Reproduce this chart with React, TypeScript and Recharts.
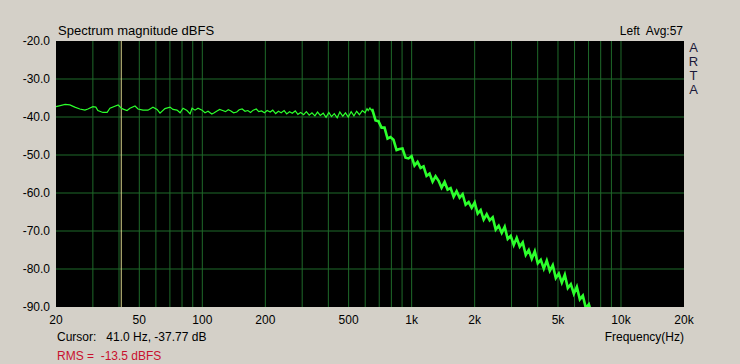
import { CartesianGrid, Line, LineChart, ReferenceLine, XAxis, YAxis } from "recharts";

// low end, one reading per visible wiggle (Hz / dBFS)
const lowFreqs = [20, 22.1, 23.3, 24.6, 26, 27.5, 28.4, 30, 31, 31.7, 33.5, 35.1, 36.2, 39.6, 40.4, 41.3, 43.7, 45.1, 47.7, 49.3, 52.1, 55, 58.1, 60.8, 62.8, 66.3, 70.1, 72.4, 75.7, 78.3, 80.9, 84.5, 87.4, 89.3, 92.3, 95.4, 99.7, 103, 106.5, 111];
const lowLevels = [-37.3, -36.7, -36.8, -37.4, -37.9, -38.2, -37.9, -37.3, -37.4, -38.3, -38.8, -38.8, -37.7, -36.8, -37.3, -37.8, -38.3, -37.7, -37.1, -37.9, -38.2, -38.2, -37.4, -38.0, -39.0, -37.8, -37.4, -38.0, -38.2, -38.9, -37.7, -38.3, -39.2, -37.7, -38.2, -37.7, -38.2, -38.9, -38.5, -39.2];

// flat part up to the peak, noise gets denser
const midFreqs = [114, 117.5, 121, 125, 129, 133, 137, 141, 146, 150, 155, 160, 165, 170, 175, 181, 186, 192, 198, 204, 211, 217, 224, 231, 238, 246, 253, 261, 269, 278, 286, 295, 305, 314, 324, 334, 345, 355, 366, 378, 390, 402, 414, 427, 441, 454, 469, 483, 498, 514, 530, 546, 563, 581, 599, 612, 620, 632, 640];
const midLevels = [-38.9, -38.4, -38.0, -38.3, -38.6, -38.1, -38.4, -38.9, -38.7, -38.1, -37.9, -38.5, -38.3, -38.8, -38.2, -37.9, -38.6, -38.4, -38.9, -38.3, -38.7, -38.2, -39.1, -38.5, -38.9, -38.3, -39.2, -38.6, -39.0, -38.4, -39.3, -38.8, -39.4, -38.6, -39.5, -38.9, -39.7, -38.7, -39.6, -39.0, -40.1, -38.8, -39.9, -39.1, -40.2, -38.7, -39.8, -38.9, -40.0, -38.6, -39.7, -38.5, -39.4, -38.3, -38.9, -37.8, -38.3, -37.6, -38.2];

// roll-off, noisy band
const rollFreqs = [650, 672, 694, 718, 742, 767, 792, 819, 847, 875, 904, 935, 966, 999, 1032, 1067, 1103, 1140, 1178, 1218, 1259, 1301, 1345, 1390, 1437, 1485, 1535, 1587, 1640, 1695, 1752, 1811, 1872, 1935, 2000, 2067, 2137, 2208, 2283, 2359, 2439, 2521, 2605, 2693, 2783, 2877, 2974, 3074, 3177, 3284, 3394, 3508, 3626, 3748, 3874, 4004, 4139, 4278, 4421, 4570, 4723, 4882, 5046, 5216, 5391, 5572, 5760, 5953, 6153, 6360, 6574, 6795, 7023, 7259];
const rollLevels = [-38.2, -40.9, -41.1, -42.8, -42.8, -45.7, -45.3, -46.0, -48.7, -48.4, -48.3, -50.7, -50.9, -50.3, -52.8, -51.8, -53.4, -53.0, -55.5, -54.9, -57.0, -55.6, -56.8, -58.6, -57.1, -59.1, -58.7, -61.0, -59.5, -61.2, -60.3, -63.1, -62.4, -63.9, -62.5, -65.4, -64.5, -67.0, -65.6, -67.2, -66.4, -69.6, -68.6, -70.5, -68.9, -72.1, -71.3, -73.7, -71.8, -74.1, -73.0, -76.3, -75.0, -77.3, -75.3, -78.5, -77.6, -79.9, -77.8, -80.5, -79.0, -82.4, -81.2, -83.6, -81.5, -85.0, -84.0, -86.5, -84.7, -88.0, -87.0, -90.3, -89.3, -92.0];

const freqTicks = [20, 50, 100, 200, 500, 1000, 2000, 5000, 10000, 20000];
const gridFreqs = [30, 40, 50, 60, 70, 80, 90, 100, 200, 300, 400, 500, 600, 700, 800, 900, 1000, 2000, 3000, 4000, 5000, 6000, 7000, 8000, 9000, 10000];
const levelTicks = [-90, -80, -70, -60, -50, -40, -30, -20];
const gridLevels = [-80, -70, -60, -50, -40, -30];
const cursorFreq = 41;

const flatData = [...lowFreqs.map((f, i) => ({ f, db: lowLevels[i] })), ...midFreqs.map((f, i) => ({ f, db: midLevels[i] }))];
const rollData = [{ f: 640, db: -38.2 }, ...rollFreqs.map((f, i) => ({ f, db: rollLevels[i] }))];

const font = "'Liberation Sans', Arial, sans-serif";
const gridColor = "#1f6a2a";
const trace = "#2cff2c";

const fmtFreq = (v: number) => (v >= 1000 ? `${v / 1000}k` : `${v}`);

function Txt({ x, y, children, right, color, size }: { x: number; y: number; children: React.ReactNode; right?: boolean; color?: string; size?: number }) {
  return (
    <div
      style={{
        position: "absolute",
        top: y - 8,
        lineHeight: "16px",
        fontSize: size ?? 12,
        whiteSpace: "pre",
        color: color ?? "#000",
        ...(right ? { right: 740 - x } : { left: x }),
      }}
    >
      {children}
    </div>
  );
}

export default function App() {
  return (
    <div style={{ position: "fixed", left: 0, top: 0, width: 740, height: 364, background: "#d4d0c8", fontFamily: font }}>
      <LineChart width={740} height={364} margin={{ top: 41, right: 56, bottom: 27, left: 6 }}>
        <CartesianGrid fill="#000" fillOpacity={1} horizontal={false} vertical={false} />
        <XAxis
          dataKey="f"
          type="number"
          scale="log"
          domain={[20, 20000]}
          ticks={freqTicks}
          tickFormatter={fmtFreq}
          axisLine={false}
          tickLine={false}
          tickSize={0}
          tickMargin={8}
          height={30}
          tick={{ fill: "#000", fontSize: 12, fontFamily: font }}
          allowDataOverflow
        />
        <YAxis
          type="number"
          domain={[-90, -20]}
          ticks={levelTicks}
          tickFormatter={(v: number) => v.toFixed(1)}
          axisLine={false}
          tickLine={false}
          tickSize={0}
          tickMargin={6}
          width={50}
          tick={{ fill: "#000", fontSize: 12, fontFamily: font }}
          allowDataOverflow
        />
        {gridLevels.map((v) => (
          <ReferenceLine key={`h${v}`} y={v} stroke={gridColor} strokeWidth={1} />
        ))}
        {gridFreqs.map((f) => (
          <ReferenceLine key={`v${f}`} x={f} stroke={gridColor} strokeWidth={1} />
        ))}
        <ReferenceLine x={cursorFreq} stroke="#d6d38c" strokeWidth={1} />
        <Line data={flatData} dataKey="db" stroke={trace} strokeWidth={1.2} dot={false} isAnimationActive={false} />
        <Line data={rollData} dataKey="db" stroke={trace} strokeWidth={2.6} dot={false} isAnimationActive={false} />
      </LineChart>
      <Txt x={58} y={31} size={13}>Spectrum magnitude dBFS</Txt>
      <Txt x={683} y={31} right>{"Left  Avg:57"}</Txt>
      {["A", "R", "T", "A"].map((c, i) => (
        <div key={i} style={{ position: "absolute", left: 688, width: 11, textAlign: "center", top: 41 + i * 14, fontSize: 13, lineHeight: "14px", color: "#1a1838" }}>
          {c}
        </div>
      ))}
      <Txt x={57} y={337}>{"Cursor:   41.0 Hz, -37.77 dB"}</Txt>
      <Txt x={57} y={356} color="#c8102e">{"RMS =  -13.5 dBFS"}</Txt>
      <Txt x={684} y={337} right>Frequency(Hz)</Txt>
    </div>
  );
}
